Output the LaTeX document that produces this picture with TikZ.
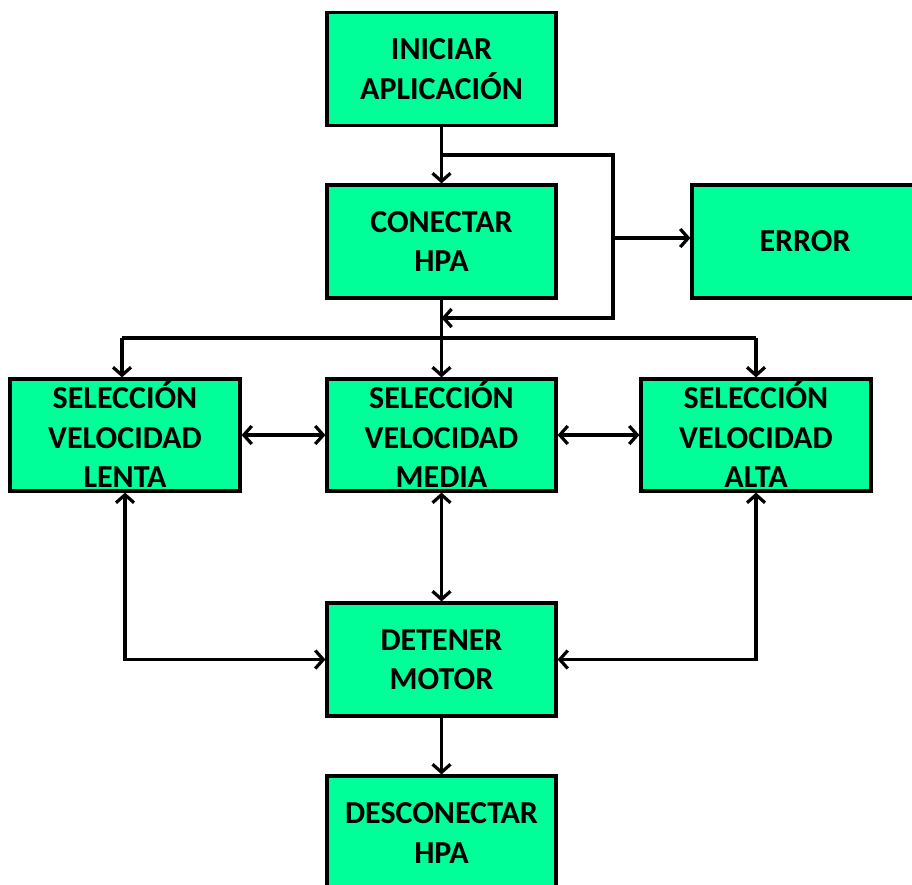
\documentclass[tikz,border=0pt]{standalone}
\usepackage{fontspec}
\setmainfont{Carlito}
\usetikzlibrary{arrows.meta}
\definecolor{boxgreen}{HTML}{00FF99}
\begin{document}
\begin{tikzpicture}[x=1pt,y=-1pt,
  box/.style={draw=black, line width=3.2pt, fill=boxgreen,
    font=\fontsize{32}{39.5}\selectfont\bfseries, align=center, inner sep=0pt,
    minimum width=229pt, minimum height=113pt},
  conn/.style={line width=3.2pt, -{Straight Barb[length=8pt,width=18pt]}},
  conn2/.style={line width=3.2pt, {Straight Barb[length=8pt,width=18pt]}-{Straight Barb[length=8pt,width=18pt]}},
  line/.style={line width=3.2pt}]
\useasboundingbox (0,0) rectangle (912,884);
\clip (0,0) rectangle (912,884);
\node[box] (ini) at (441.5,69) {INICIAR\\APLICACIÓN};
\node[box] (con) at (441.5,241.5) {CONECTAR\\HPA};
\node[box, minimum width=226pt] (err) at (805,241.5) {ERROR};
\node[box, minimum width=230pt, minimum height=112pt] (len) at (125,435) {SELECCIÓN\\VELOCIDAD\\LENTA};
\node[box, minimum height=112pt] (med) at (441.5,435) {SELECCIÓN\\VELOCIDAD\\MEDIA};
\node[box, minimum width=230pt, minimum height=112pt] (alt) at (756,435) {SELECCIÓN\\VELOCIDAD\\ALTA};
\node[box] (det) at (441.5,659.5) {DETENER\\MOTOR};
\node[box, minimum height=114pt] (des) at (441.5,833) {DESCONECTAR\\HPA};
% top connectors
\draw[conn] (ini) -- (con);
\coordinate (j1) at (441.5,155);
\coordinate (r1) at (613,155);
\coordinate (r2) at (613,318);
\coordinate (j2) at (441.5,318);
\coordinate (r3) at (613,238);
\draw[conn] (j1) -- (r1) -- (r2) -- (j2);
\draw[conn] (r3) -- (r3 -| err.west);
% fan out
\coordinate (j3) at (441.5,338);
\coordinate (bl) at (122,338);
\coordinate (br) at (756,338);
\draw[line] (con.south) -- (j3);
\draw[line] (bl) -- (br);
\draw[conn] (bl) -- (bl |- len.north);
\draw[conn] (j3) -- (med.north);
\draw[conn] (br) -- (alt.north);
% horizontals
\draw[conn2] (len) -- (med);
\draw[conn2] (med) -- (alt);
\draw[conn2] (med) -- (det);
\draw[conn2] (len.south) |- (det.west);
\draw[conn2] (alt.south) |- (det.east);
\draw[conn] (det) -- (des);
\end{tikzpicture}
\end{document}
